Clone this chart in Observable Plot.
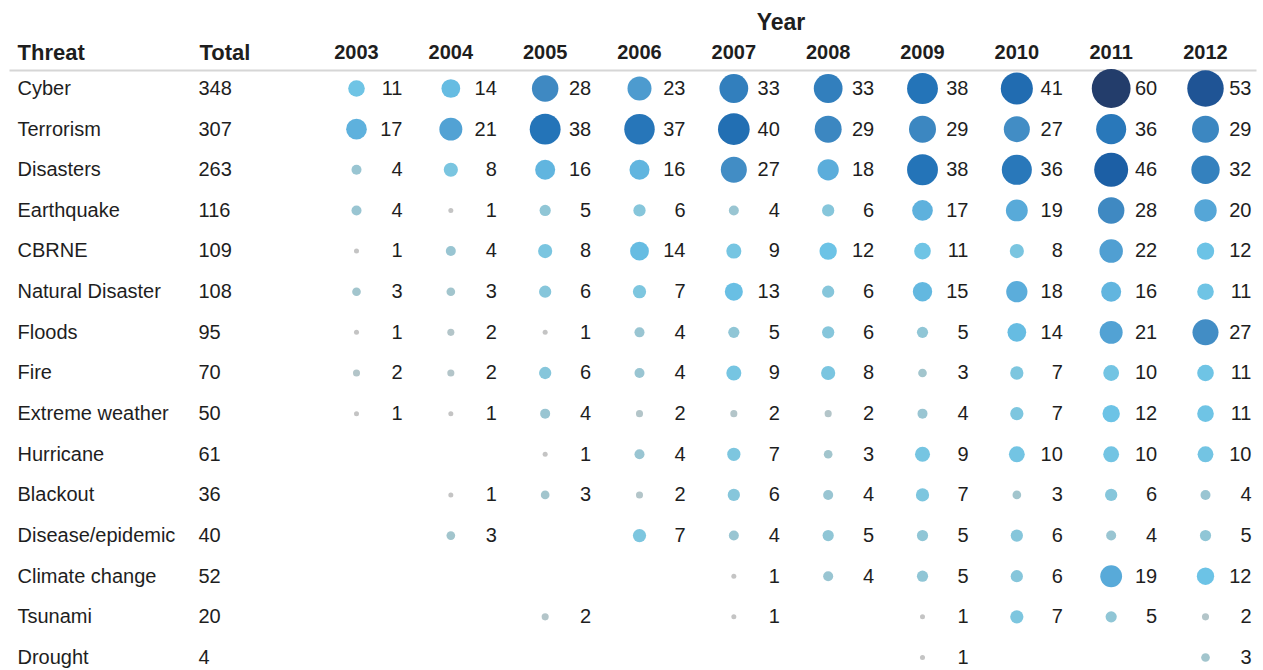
<!DOCTYPE html>
<html>
<head>
<meta charset="utf-8">
<script src="https://cdn.jsdelivr.net/npm/d3@7"></script>
<script src="https://cdn.jsdelivr.net/npm/@observablehq/plot@0.6"></script>
<style>
  html, body { margin: 0; padding: 0; background: #fff; }
  #chart svg { display: block; }
</style>
</head>
<body>
<div id="chart"></div>
<script>
const years = [2003, 2004, 2005, 2006, 2007, 2008, 2009, 2010, 2011, 2012];
const threats = ["Cyber", "Terrorism", "Disasters", "Earthquake", "CBRNE", "Natural Disaster",
  "Floods", "Fire", "Extreme weather", "Hurricane", "Blackout", "Disease/epidemic",
  "Climate change", "Tsunami", "Drought"];
const totals = [348, 307, 263, 116, 109, 108, 95, 70, 50, 61, 36, 40, 52, 20, 4];
// counts per threat, one value per year (null = no entry)
const counts = [
  [11, 14, 28, 23, 33, 33, 38, 41, 60, 53],
  [17, 21, 38, 37, 40, 29, 29, 27, 36, 29],
  [4, 8, 16, 16, 27, 18, 38, 36, 46, 32],
  [4, 1, 5, 6, 4, 6, 17, 19, 28, 20],
  [1, 4, 8, 14, 9, 12, 11, 8, 22, 12],
  [3, 3, 6, 7, 13, 6, 15, 18, 16, 11],
  [1, 2, 1, 4, 5, 6, 5, 14, 21, 27],
  [2, 2, 6, 4, 9, 8, 3, 7, 10, 11],
  [1, 1, 4, 2, 2, 2, 4, 7, 12, 11],
  [null, null, 1, 4, 7, 3, 9, 10, 10, 10],
  [null, 1, 3, 2, 6, 4, 7, 3, 6, 4],
  [null, 3, null, 7, 4, 5, 5, 6, 4, 5],
  [null, null, null, null, 1, 4, 5, 6, 19, 12],
  [null, null, 2, null, 1, null, 1, 7, 5, 2],
  [null, null, null, null, null, null, 1, null, null, 3]
];
const colorStops = [1, 3, 7, 12, 20, 28, 38, 46, 53, 60];
const colorRange = ["#c4c4c4", "#a2c5cd", "#7dc6df", "#6cc3e6", "#55a6d7", "#3f89c2", "#2474b8", "#1c5fa5", "#1f5495", "#233d6b"];

const cells = threats.flatMap((t, i) =>
  years.map((y, j) => ({threat: t, year: y, value: counts[i][j]}))
).filter(d => d.value != null);

const font = "'Liberation Sans', Arial, sans-serif";
const ink = "#1e1e1e";

const chart = Plot.plot({
  width: 1263,
  height: 670,
  marginTop: 70,
  marginLeft: 10,
  marginRight: 8,
  marginBottom: 0,
  style: {fontFamily: font, fontSize: "20px", color: ink, background: "#fff"},
  x: {domain: [years[0], years[years.length - 1]], range: [356, 1205], axis: null},
  y: {type: "point", domain: threats, range: [88, 657], padding: 0, round: false, axis: null},
  r: {domain: [0, 60], range: [0, 19.4]},
  color: {type: "linear", domain: colorStops, range: colorRange},
  marks: [
    Plot.frame({anchor: "top", stroke: "#d6d6d6", strokeWidth: 2}),
    Plot.text(["Year"], {x: (years[0] + years[years.length - 1]) / 2, frameAnchor: "top", lineAnchor: "middle", dy: -48, fontWeight: "bold", fontSize: 23, fill: ink}),
    Plot.text(years, {x: d => d, text: d => String(d), frameAnchor: "top", lineAnchor: "middle", dy: -18, fontWeight: "bold", fontSize: 20, fill: ink}),
    Plot.text(["Threat"], {frameAnchor: "top-left", lineAnchor: "middle", dx: 7, dy: -18, textAnchor: "start", fontWeight: "bold", fontSize: 22, fill: ink}),
    Plot.text(["Total"], {frameAnchor: "top-left", lineAnchor: "middle", dx: 189, dy: -18, textAnchor: "start", fontWeight: "bold", fontSize: 22, fill: ink}),
    Plot.text(threats, {y: d => d, frameAnchor: "left", lineAnchor: "middle", dx: 7, textAnchor: "start", fontSize: 20, fill: ink}),
    Plot.text(threats, {y: d => d, text: (d, i) => String(totals[i]), frameAnchor: "left", lineAnchor: "middle", dx: 188, textAnchor: "start", fontSize: 20, fill: ink}),
    Plot.dot(cells, {x: "year", y: "threat", r: "value", fill: "value", stroke: null}),
    Plot.text(cells, {x: "year", y: "threat", text: d => String(d.value), lineAnchor: "middle", dx: 46, textAnchor: "end", fontSize: 20, fill: ink})
  ]
});
document.getElementById("chart").append(chart);
</script>
</body>
</html>
